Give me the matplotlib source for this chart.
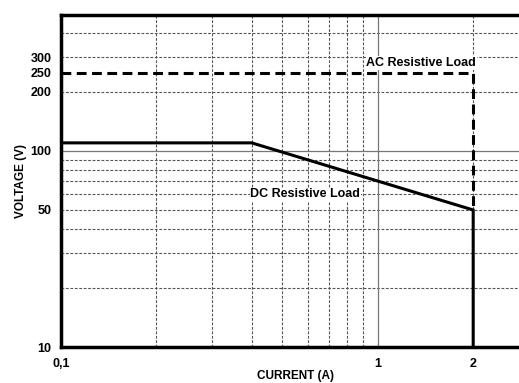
import numpy as np
import matplotlib.pyplot as plt

# derating curves
current_dc = [0.1, 0.4, 2, 2]
voltage_dc = [110, 110, 50, 10]
current_ac = [0.1, 2, 2]
voltage_ac = [250, 250, 50]

x_ticks = [0.1, 1, 2]
x_labels = ['0,1', '1', '2']
y_ticks = [10, 50, 100, 200, 250, 300]
y_labels = ['10', '50', '100', '200', '250', '300']

x_grid_dashed = [0.2, 0.3, 0.4, 0.5, 0.6, 0.7, 0.8, 0.9, 2]
y_grid_dashed = [20, 30, 40, 50, 60, 70, 80, 90, 200, 300, 400]

plt.rcParams['font.family'] = ['Liberation Sans', 'DejaVu Sans']
plt.rcParams['font.weight'] = 'bold'

fig = plt.figure(figsize=(5.19, 3.83), dpi=100)
ax = fig.add_axes([61/519, 36/383, 458/519, 332/383])
ax.set_xscale('log')
ax.set_yscale('log')
ax.set_xlim(0.1, 2.79)
ax.set_ylim(10, 494)

for xv in x_grid_dashed:
    ax.axvline(xv, color='#555555', lw=0.8, ls=(0, (2.5, 1.5)), zorder=1)
for yv in y_grid_dashed:
    ax.axhline(yv, color='#555555', lw=0.8, ls=(0, (2.5, 1.5)), zorder=1)
ax.axvline(1, color='#777777', lw=0.9, zorder=1)
ax.axhline(100, color='#777777', lw=0.9, zorder=1)

ax.plot(current_ac, voltage_ac, color='black', lw=2.2, dashes=(3.2, 1.8), zorder=3)
ax.plot(current_dc, voltage_dc, color='black', lw=2.2, solid_joinstyle='miter', zorder=4)

ax.text(1.37, 281, 'AC Resistive Load', fontsize=9, fontweight='bold', ha='center', va='center',
        bbox=dict(facecolor='white', edgecolor='none', pad=0.5), zorder=5)
ax.text(0.59, 60, 'DC Resistive Load', fontsize=9, fontweight='bold', ha='center', va='center',
        bbox=dict(facecolor='white', edgecolor='none', pad=0.5), zorder=5)

ax.set_xticks(x_ticks)
ax.set_xticklabels(x_labels)
ax.set_yticks(y_ticks)
ax.set_yticklabels(y_labels)
ax.minorticks_off()
ax.tick_params(length=0, labelsize=9)
ax.tick_params(axis='x', pad=8)
ax.tick_params(axis='y', pad=7)
for lab in ax.get_xticklabels() + ax.get_yticklabels():
    lab.set_fontweight('bold')

for side in ['left', 'bottom', 'top']:
    ax.spines[side].set_linewidth(2.5)
ax.spines['right'].set_visible(False)

ax.set_xlabel('CURRENT (A)', fontsize=8.5, fontweight='bold')
ax.xaxis.set_label_coords(0.512, -0.088)
ax.xaxis.label.set_va('center')
ax.set_ylabel('VOLTAGE (V)', fontsize=8.5, fontweight='bold')
ax.yaxis.set_label_coords(-0.074, 0.5)

plt.savefig('out.png', dpi=100)
